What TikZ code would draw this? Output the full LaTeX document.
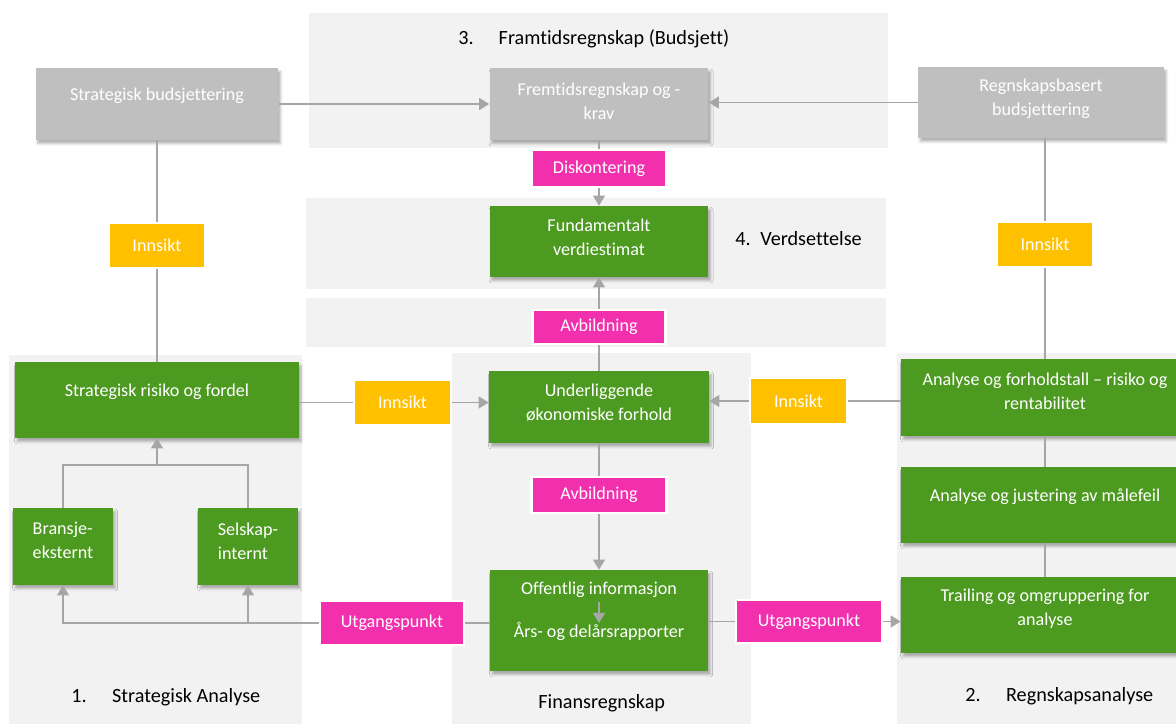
\documentclass[tikz,border=0pt]{standalone}
\usepackage{fontspec}
\setmainfont{Carlito}[Ligatures=NoCommon]
\usetikzlibrary{arrows.meta,shadows.blur}

\definecolor{panelgray}{HTML}{F2F2F2}
\definecolor{boxgray}{HTML}{BFBFBF}
\definecolor{boxgreen}{HTML}{4C9A1F}
\definecolor{tagpink}{HTML}{F230AE}
\definecolor{tagyellow}{HTML}{FFC000}
\definecolor{linegray}{HTML}{A6A6A6}

\tikzset{
    box/.style={rectangle, inner sep=0pt,
        blur shadow={shadow xshift=1.2pt, shadow yshift=-2pt, shadow blur radius=1.4pt, shadow opacity=30}},
    graybox/.style={box, fill=boxgray},
    greenbox/.style={box, fill=boxgreen},
    boxtext/.style={text=white, font=\fontsize{10.3}{13.6}\selectfont, align=center, inner sep=0pt},
    tag/.style={rectangle, draw=white, line width=1.5pt, inner sep=0pt, text=white,
        font=\fontsize{10.3}{13.6}\selectfont},
    pinktag/.style={tag, fill=tagpink},
    yellowtag/.style={tag, fill=tagyellow},
    conn/.style={draw=linegray, line width=0.85pt},
    arr/.style={conn, -{Triangle[width=6.8pt,length=5.7pt]}},
    section/.style={anchor=west, inner sep=0pt, text=black, font=\fontsize{11.5}{14}\selectfont},
}

\begin{document}
\begin{tikzpicture}[x=0.02cm,y=-0.02cm]
    \useasboundingbox (0,0) rectangle (1176,724);
    % grey panels
    \fill[panelgray] (309,13) rectangle (888,148);
    \fill[panelgray] (306,198) rectangle (886,289);
    \fill[panelgray] (306,298) rectangle (886,347);
    \fill[panelgray] (9,355) rectangle (302,724);
    \fill[panelgray] (452,353) rectangle (751,724);
    \fill[panelgray] (897,353) rectangle (1176,724);

    \node[section] (tit3) at (458,39) {\makebox[23pt][l]{3.}Framtidsregnskap (Budsjett)};
    \node[section] (tit4) at (735,239) {\makebox[14.2pt][l]{4.}Verdsettelse};
    \node[section] (tit1) at (71,697) {\makebox[23.2pt][l]{1.}Strategisk Analyse};
    \node[section] (titf) at (538,703) {Finansregnskap};
    \node[section] (tit2) at (965,696) {\makebox[23.2pt][l]{2.}Regnskapsanalyse};

    % boxes
    \node[graybox, minimum width=4.86cm, minimum height=1.44cm,
        label={[boxtext,yshift=4.5pt]center:Strategisk budsjettering}] (budsj) at (157,104) {};
    \node[graybox, minimum width=4.38cm, minimum height=1.44cm,
        label={[boxtext,yshift=1.7pt]center:{Fremtidsregnskap og -\\krav}}] (fremtid) at (599,104) {};
    \node[graybox, minimum width=4.92cm, minimum height=1.42cm,
        label={[boxtext,yshift=2pt]center:{Regnskapsbasert\\budsjettering}}] (regnsk) at (1041,102.5) {};
    \node[greenbox, minimum width=4.38cm, minimum height=1.42cm,
        label={[boxtext,yshift=2.5pt]center:{Fundamentalt\\verdiestimat}}] (fund) at (599,241.5) {};
    \node[greenbox, minimum width=4.4cm, minimum height=1.44cm,
        label={[boxtext,yshift=2.5pt]center:{Underliggende\\økonomiske forhold}}] (underl) at (599,407) {};
    \node[greenbox, minimum width=4.36cm, minimum height=2.02cm,
        label={[boxtext,yshift=5.1pt]center:{Offentlig informasjon\\[10.8pt]Års- og delårsrapporter}}] (offentlig) at (599,620.5) {};
    \node[greenbox, minimum width=5.68cm, minimum height=1.52cm,
        label={[boxtext,yshift=4.5pt]center:Strategisk risiko og fordel}] (risiko) at (157,400) {};
    \node[greenbox, minimum width=2cm, minimum height=1.54cm,
        label={[boxtext,align=left,yshift=3.7pt]center:{Bransje-\\eksternt}}] (bransje) at (63,546.5) {};
    \node[greenbox, minimum width=2cm, minimum height=1.54cm,
        label={[boxtext,align=left,yshift=3.1pt]center:{Selskap-\\internt}}] (selskap) at (248,546.5) {};
    \node[greenbox, minimum width=5.76cm, minimum height=1.54cm,
        label={[boxtext,yshift=3.7pt]center:{Analyse og forholdstall – risiko og\\rentabilitet}}] (forhold) at (1045,397.5) {};
    \node[greenbox, minimum width=5.76cm, minimum height=1.52cm,
        label={[boxtext,yshift=4.5pt]center:Analyse og justering av målefeil}] (justering) at (1045,505) {};
    \node[greenbox, minimum width=5.76cm, minimum height=1.52cm,
        label={[boxtext,yshift=3.4pt]center:{Trailing og omgruppering for\\analyse}}] (trailing) at (1045,615) {};

    % tags
    \node[pinktag, minimum width=2.68cm, minimum height=0.74cm] (disk) at (599,168.5) {Diskontering};
    \node[yellowtag, minimum width=1.94cm, minimum height=0.9cm] (innL) at (157,245.5) {Innsikt};
    \node[yellowtag, minimum width=1.94cm, minimum height=0.9cm] (innR) at (1045,244.5) {Innsikt};
    \node[pinktag, minimum width=2.66cm, minimum height=0.68cm] (avbT) at (599,327) {Avbildning};
    \node[yellowtag, minimum width=1.94cm, minimum height=0.9cm] (innML) at (402.5,402.5) {Innsikt};
    \node[yellowtag, minimum width=1.94cm, minimum height=0.92cm] (innMR) at (798.5,401) {Innsikt};
    \node[pinktag, minimum width=2.7cm, minimum height=0.72cm] (avbL) at (599,495) {Avbildning};
    \node[pinktag, minimum width=2.88cm, minimum height=0.88cm] (utgL) at (392,623) {Utgangspunkt};
    \node[pinktag, minimum width=2.92cm, minimum height=0.86cm] (utgR) at (809,621.5) {Utgangspunkt};

    \coordinate (junc) at (157,465);
    \coordinate (dropA) at (599,602);
    \coordinate (dropB) at (599,623);

    % connectors
    \draw[arr] (budsj.east) -- (fremtid.west);
    \draw[arr] (regnsk.west) -- (regnsk.west -| fremtid.east);
    \draw[conn] (fremtid.south) -- (disk.north);
    \draw[arr] (disk.south) -- (fund.north);
    \draw[conn] (underl.north) -- (avbT.south);
    \draw[arr] (avbT.north) -- (fund.south);
    \draw[conn] (underl.south) -- (avbL.north);
    \draw[arr] (avbL.south) -- (offentlig.north);
    \draw[arr] (dropA) -- (dropB);
    \draw[conn] (budsj.south) -- (innL.north);
    \draw[conn] (innL.south) -- (risiko.north);
    \draw[conn] (innR.north |- regnsk.south) -- (innR.north);
    \draw[conn] (innR.south) -- (forhold.north);
    \draw[conn] (forhold.south) -- (justering.north);
    \draw[conn] (justering.south) -- (trailing.north);
    \draw[conn] (risiko.east |- innML) -- (innML.west);
    \draw[arr] (innML.east) -- (innML.east -| underl.west);
    \draw[conn] (forhold.west |- innMR) -- (innMR.east);
    \draw[arr] (innMR.west) -- (innMR.west -| underl.east);
    \draw[conn] (bransje.north) |- (junc) -| (selskap.north);
    \draw[arr] (junc) -- (risiko.south);
    \draw[conn] (offentlig.west |- utgL) -- (utgL.east);
    \draw[arr] (utgL.west) -| (bransje.south);
    \draw[arr] (utgL.west -| selskap.south) -- (selskap.south);
    \draw[conn] (offentlig.east |- utgR) -- (utgR.west);
    \draw[arr] (utgR.east) -- (utgR.east -| trailing.west);
\end{tikzpicture}
\end{document}
